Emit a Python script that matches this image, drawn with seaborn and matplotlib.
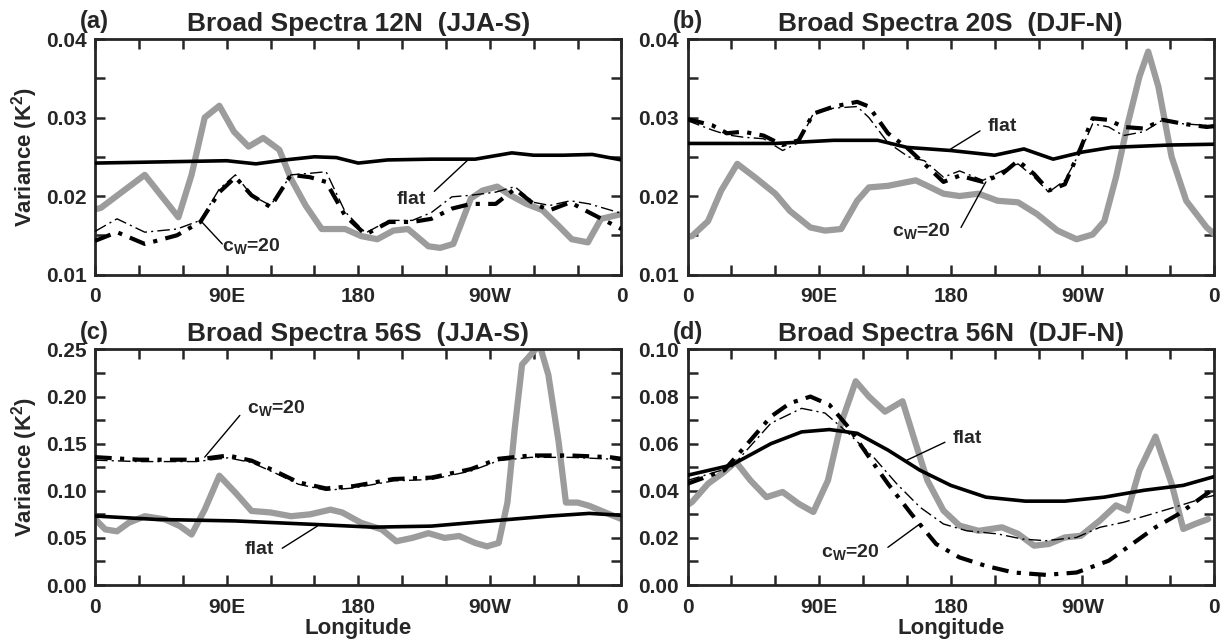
import numpy as np
import pandas as pd
import matplotlib
matplotlib.use("Agg")
import matplotlib.pyplot as plt
import seaborn as sns

# ---- panel (a) 12N JJA-S ----
a_obs_lon = [0, 4, 34, 57, 66, 75, 85, 95, 105, 115, 126, 134, 144, 155, 171, 182, 193, 204, 214, 228, 236, 245,
             257, 265, 275, 284, 295, 306, 317, 326, 337, 346, 360]
a_obs = [0.0183, 0.0185, 0.0227, 0.0173, 0.0227, 0.0300, 0.0315, 0.0282, 0.0263, 0.0274, 0.0259, 0.0222, 0.0188,
         0.0158, 0.0158, 0.0149, 0.0145, 0.0156, 0.0158, 0.0136, 0.0134, 0.0139, 0.0197, 0.0207, 0.0212, 0.0201,
         0.0190, 0.0182, 0.0162, 0.0145, 0.0141, 0.0171, 0.0177]
a_flat_lon = [0, 30, 60, 90, 110, 130, 150, 165, 180, 200, 230, 260, 285, 300, 320, 340, 360]
a_flat = [0.0242, 0.0243, 0.0244, 0.0245, 0.0241, 0.0246, 0.0250, 0.0249, 0.0242, 0.0246, 0.0247, 0.0247, 0.0255,
          0.0252, 0.0252, 0.0253, 0.0246]
a_cw_lon = [0, 15, 34, 56, 72, 85, 96, 107, 120, 134, 147, 158, 171, 185, 201, 217, 230, 244, 257, 274, 287, 300,
            311, 325, 338, 360]
a_cw_thick = [0.0143, 0.0154, 0.0139, 0.0150, 0.0167, 0.0205, 0.0224, 0.0201, 0.0186, 0.0227, 0.0224, 0.0218,
              0.0175, 0.0151, 0.0167, 0.0167, 0.0171, 0.0184, 0.0190, 0.0190, 0.0209, 0.0190, 0.0182, 0.0192,
              0.0179, 0.0158]
a_cw_thin = [0.0155, 0.0171, 0.0154, 0.0158, 0.0169, 0.0209, 0.0227, 0.0201, 0.0188, 0.0227, 0.0229, 0.0231,
             0.0180, 0.0153, 0.0169, 0.0169, 0.0179, 0.0199, 0.0201, 0.0205, 0.0212, 0.0192, 0.0188, 0.0194,
             0.0190, 0.0178]

# ---- panel (b) 20S DJF-N ----
b_obs_lon = [0, 3, 14, 23, 34, 46, 60, 70, 84, 94, 105, 116, 124, 137, 156, 164, 175, 186, 199, 212, 226, 239,
             253, 266, 277, 285, 293, 301, 309, 315, 322, 331, 341, 355, 360]
b_obs = [0.0148, 0.0149, 0.0168, 0.0207, 0.0241, 0.0224, 0.0203, 0.0181, 0.0160, 0.0156, 0.0158, 0.0194, 0.0211,
         0.0213, 0.0220, 0.0213, 0.0203, 0.0200, 0.0203, 0.0194, 0.0192, 0.0177, 0.0156, 0.0145, 0.0151, 0.0168,
         0.0224, 0.0292, 0.0352, 0.0384, 0.0339, 0.0250, 0.0194, 0.0160, 0.0152]
b_flat_lon = [0, 30, 60, 100, 130, 150, 180, 210, 230, 250, 270, 290, 330, 360]
b_flat = [0.0267, 0.0267, 0.0267, 0.0271, 0.0271, 0.0262, 0.0258, 0.0252, 0.0260, 0.0247, 0.0256, 0.0262, 0.0265,
          0.0266]
b_cw_lon = [0, 17, 27, 38, 52, 65, 76, 86, 100, 116, 124, 137, 151, 162, 175, 186, 202, 215, 226, 237, 247, 258,
            269, 277, 288, 298, 312, 325, 339, 355, 360]
b_cw_thick = [0.0298, 0.0290, 0.0280, 0.0282, 0.0277, 0.0265, 0.0271, 0.0305, 0.0314, 0.0320, 0.0314, 0.0280,
              0.0260, 0.0241, 0.0218, 0.0226, 0.0218, 0.0228, 0.0245, 0.0228, 0.0207, 0.0215, 0.0262, 0.0299,
              0.0297, 0.0288, 0.0286, 0.0297, 0.0292, 0.0288, 0.0289]
b_cw_thin = [0.0296, 0.0284, 0.0278, 0.0275, 0.0273, 0.0258, 0.0268, 0.0305, 0.0312, 0.0314, 0.0300, 0.0268,
             0.0250, 0.0245, 0.0224, 0.0232, 0.0220, 0.0232, 0.0241, 0.0224, 0.0205, 0.0220, 0.0258, 0.0292,
             0.0288, 0.0277, 0.0282, 0.0297, 0.0292, 0.0290, 0.0290]

# ---- panel (c) 56S JJA-S ----
c_obs_lon = [0, 7, 15, 23, 34, 48, 58, 66, 75, 85, 96, 107, 120, 134, 147, 161, 169, 182, 196, 206, 217, 228, 239,
             249, 260, 268, 276, 282, 287, 292, 304, 310, 317, 322, 330, 338, 352, 360]
c_obs = [0.070, 0.059, 0.057, 0.066, 0.073, 0.0696, 0.0625, 0.0536, 0.080, 0.116, 0.098, 0.0786, 0.077, 0.073,
         0.075, 0.080, 0.077, 0.066, 0.059, 0.0464, 0.050, 0.055, 0.050, 0.052, 0.0446, 0.041, 0.0446, 0.0875,
         0.166, 0.234, 0.255, 0.223, 0.152, 0.0875, 0.0875, 0.084, 0.075, 0.070]
c_flat_lon = [0, 42, 96, 150, 190, 230, 271, 311, 338, 360]
c_flat = [0.0732, 0.0696, 0.068, 0.0643, 0.0614, 0.0625, 0.068, 0.0732, 0.076, 0.074]
c_cw_lon = [0, 30, 69, 91, 107, 123, 139, 158, 177, 204, 230, 257, 276, 298, 325, 352, 360]
c_cw_thick = [0.1357, 0.133, 0.133, 0.1375, 0.132, 0.121, 0.109, 0.1025, 0.105, 0.1125, 0.114, 0.123, 0.134,
              0.1375, 0.1375, 0.1357, 0.134]
c_cw_thin = [0.1325, 0.131, 0.131, 0.135, 0.130, 0.119, 0.107, 0.1005, 0.103, 0.1105, 0.112, 0.121, 0.132,
             0.1355, 0.1355, 0.1337, 0.132]

# ---- panel (d) 56N DJF-N ----
d_obs_lon = [0, 3, 14, 25, 33, 43, 54, 65, 76, 86, 96, 105, 115, 124, 135, 147, 156, 164, 175, 186, 199, 215,
             226, 237, 247, 258, 269, 282, 293, 301, 309, 320, 331, 339, 347, 356]
d_obs = [0.034, 0.0352, 0.043, 0.048, 0.0523, 0.0444, 0.0373, 0.0395, 0.0345, 0.031, 0.0444, 0.0687, 0.0865,
         0.080, 0.0736, 0.078, 0.060, 0.0444, 0.0316, 0.0252, 0.023, 0.0245, 0.0217, 0.0167, 0.0174, 0.0202,
         0.0209, 0.0274, 0.0338, 0.0316, 0.0487, 0.063, 0.043, 0.0238, 0.0259, 0.028]
d_flat_lon = [0, 30, 57, 78, 97, 116, 137, 159, 180, 204, 231, 258, 285, 312, 339, 360]
d_flat = [0.0466, 0.0509, 0.060, 0.065, 0.066, 0.0644, 0.0573, 0.0487, 0.0423, 0.0373, 0.0356, 0.0356, 0.0373,
          0.0402, 0.0423, 0.046]
d_cw_thick_lon = [0, 25, 41, 57, 70, 84, 97, 110, 124, 137, 153, 170, 186, 204, 223, 245, 266, 288, 304, 320, 336,
                  355, 360]
d_cw_thick = [0.043, 0.0487, 0.060, 0.0715, 0.0772, 0.080, 0.0765, 0.067, 0.0544, 0.043, 0.0302, 0.0174, 0.0117,
              0.0081, 0.0053, 0.0043, 0.0053, 0.0103, 0.0174, 0.0245, 0.0302, 0.0387, 0.041]
d_cw_thin_lon = [0, 30, 57, 78, 94, 110, 127, 143, 159, 175, 191, 212, 229, 245, 266, 282, 298, 314, 333, 355, 360]
d_cw_thin = [0.0444, 0.050, 0.0687, 0.075, 0.073, 0.0644, 0.0544, 0.043, 0.033, 0.0259, 0.023, 0.0217, 0.0195,
             0.0188, 0.0202, 0.0245, 0.0266, 0.0295, 0.033, 0.0373, 0.038]

titles = ["Broad Spectra 12N  (JJA-S)", "Broad Spectra 20S  (DJF-N)",
          "Broad Spectra 56S  (JJA-S)", "Broad Spectra 56N  (DJF-N)"]
letters = ["(a)", "(b)", "(c)", "(d)"]
xtick_labels = ["0", "90E", "180", "90W", "0"]

sns.set_style("ticks")
plt.rcParams["font.family"] = ["Liberation Sans", "DejaVu Sans"]
plt.rcParams["font.weight"] = "bold"
plt.rcParams["mathtext.fontset"] = "custom"
plt.rcParams["mathtext.rm"] = "Liberation Sans:bold"
plt.rcParams["mathtext.bf"] = "Liberation Sans:bold"
plt.rcParams["mathtext.default"] = "bf"

fig, axes = plt.subplots(2, 2, figsize=(12.28, 6.43), dpi=100)
fig.subplots_adjust(left=0.0774, right=0.9886, top=0.9393, bottom=0.0902, wspace=0.1255, hspace=0.318)

panels = [
    dict(obs=(a_obs_lon, a_obs), flat=(a_flat_lon, a_flat), thick=(a_cw_lon, a_cw_thick), thin=(a_cw_lon, a_cw_thin),
         ylim=(0.01, 0.04), yt=[0.01, 0.02, 0.03, 0.04], ym=0.005, fmt="%.2f",
         flat_txt=(216, 0.0196), flat_ln=((232, 0.0206), (255, 0.0246)),
         cw_txt=(107, 0.0136), cw_ln=((87, 0.0139), (73, 0.0167))),
    dict(obs=(b_obs_lon, b_obs), flat=(b_flat_lon, b_flat), thick=(b_cw_lon, b_cw_thick), thin=(b_cw_lon, b_cw_thin),
         ylim=(0.01, 0.04), yt=[0.01, 0.02, 0.03, 0.04], ym=0.005, fmt="%.2f",
         flat_txt=(215, 0.0288), flat_ln=((200, 0.0283), (180, 0.0260)),
         cw_txt=(160, 0.0156), cw_ln=((187, 0.0160), (204, 0.0218))),
    dict(obs=(c_obs_lon, c_obs), flat=(c_flat_lon, c_flat), thick=(c_cw_lon, c_cw_thick), thin=(c_cw_lon, c_cw_thin),
         ylim=(0.0, 0.25), yt=[0.0, 0.05, 0.10, 0.15, 0.20, 0.25], ym=0.025, fmt="%.2f",
         cw_txt=(124, 0.1875), cw_ln=((99, 0.180), (75, 0.1357)),
         flat_txt=(112, 0.0375), flat_ln=((128, 0.039), (152, 0.0625))),
    dict(obs=(d_obs_lon, d_obs), flat=(d_flat_lon, d_flat), thick=(d_cw_thick_lon, d_cw_thick),
         thin=(d_cw_thin_lon, d_cw_thin),
         ylim=(0.0, 0.10), yt=[0.0, 0.02, 0.04, 0.06, 0.08, 0.10], ym=0.01, fmt="%.2f",
         flat_txt=(191, 0.0622), flat_ln=((176, 0.0606), (150, 0.053)),
         cw_txt=(111, 0.0138), cw_ln=((137, 0.016), (159, 0.026))),
]

for i, (ax, p) in enumerate(zip(axes.flat, panels)):
    sns.lineplot(x=p["obs"][0], y=p["obs"][1], ax=ax, color="#9c9c9c", lw=4.5, zorder=2)
    sns.lineplot(x=p["flat"][0], y=p["flat"][1], ax=ax, color="black", lw=2.6, zorder=3)
    sns.lineplot(x=p["thin"][0], y=p["thin"][1], ax=ax, color="black", lw=1.0, zorder=3,
                 linestyle=(0, (9, 3, 1.5, 3)))
    sns.lineplot(x=p["thick"][0], y=p["thick"][1], ax=ax, color="black", lw=3.0, zorder=3,
                 linestyle=(0, (4, 2, 1, 2)))

    ax.set_xlim(0, 360)
    ax.set_ylim(*p["ylim"])
    ax.set_xticks([0, 90, 180, 270, 360])
    ax.set_xticklabels(xtick_labels)
    ax.set_xticks(np.arange(0, 361, 30), minor=True)
    ax.set_yticks(p["yt"])
    ax.yaxis.set_major_formatter(matplotlib.ticker.FormatStrFormatter(p["fmt"]))
    ax.set_yticks(np.arange(p["ylim"][0], p["ylim"][1] + 1e-9, p["ym"]), minor=True)
    ax.tick_params(which="both", direction="in", top=True, right=True, width=1.8, labelsize=15)
    ax.tick_params(axis="x", which="both", pad=9)
    ax.tick_params(axis="y", which="both", pad=6)
    ax.tick_params(which="major", length=7)
    ax.tick_params(which="minor", length=7)
    for s in ax.spines.values():
        s.set_linewidth(2.0)
        s.set_visible(True)
    for lab in ax.get_xticklabels() + ax.get_yticklabels():
        lab.set_fontweight("bold")

    ax.set_title(titles[i], fontsize=19, fontweight="bold", pad=6)
    ax.text(-0.028, 1.025, letters[i], transform=ax.transAxes, fontsize=17, fontweight="bold",
            ha="left", va="bottom")

    ax.text(*p["flat_txt"], "flat", fontsize=14, fontweight="bold", ha="center", va="center")
    ax.plot(*zip(*p["flat_ln"]), color="black", lw=1.0)
    ax.text(*p["cw_txt"], r"c$_{W}$=20", fontsize=14, fontweight="bold", ha="center", va="center")
    ax.plot(*zip(*p["cw_ln"]), color="black", lw=1.0)

    if i % 2 == 0:
        ax.set_ylabel(r"Variance (K$^2$)", fontsize=16, fontweight="bold", labelpad=4)
    else:
        ax.set_ylabel("")
    if i >= 2:
        ax.set_xlabel("Longitude", fontsize=16, fontweight="bold", labelpad=1)
    else:
        ax.set_xlabel("")

fig.savefig("out.png", dpi=100)
